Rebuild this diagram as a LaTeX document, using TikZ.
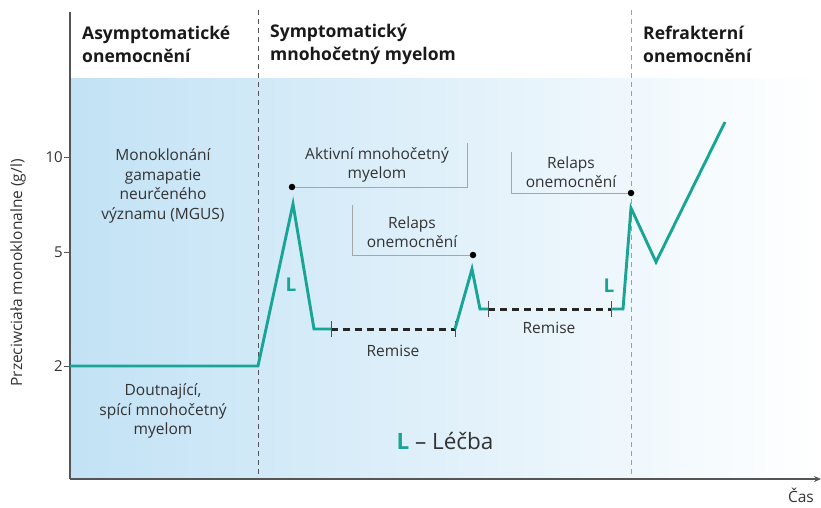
\documentclass[tikz,border=0pt]{standalone}
\usepackage{fontspec}
\setmainfont{Open Sans}
\usetikzlibrary{arrows.meta}
\definecolor{bgL}{HTML}{C2E2F5}
\definecolor{bgM}{HTML}{E0F1FB}
\definecolor{teal1}{HTML}{19A595}
\definecolor{txt}{HTML}{333333}
\definecolor{axisc}{HTML}{555555}
\tikzset{
  curve/.style={teal1, line width=2.9pt, line join=miter},
  remis/.style={black!85, line width=3pt, dash pattern=on 7pt off 5pt},
  tickm/.style={axisc, line width=0.8pt},
  call/.style={gray!70, line width=0.9pt},
  dot/.style={circle, fill=black, inner sep=0pt, minimum size=6.5pt},
  head/.style={font=\fontsize{17.5}{23}\selectfont\bfseries, text=black!90, align=left, anchor=west, inner sep=0pt},
  lab/.style={font=\fontsize{15.5}{19.5}\selectfont, text=txt, align=center, inner sep=0pt},
  ltr/.style={font=\fontsize{19}{20}\selectfont\bfseries, text=teal1, inner sep=0pt},
  ticklab/.style={font=\fontsize{15}{16}\selectfont, text=txt, anchor=east, inner sep=0pt},
  vdash/.style={line width=1pt, dash pattern=on 5pt off 4pt}
}
\begin{document}
\begin{tikzpicture}[x=1pt,y=-1pt]
\useasboundingbox (0,0) rectangle (821,508);
% background
\shade[left color=bgL, middle color=bgM, right color=white] (70,79) rectangle (821,479);
% phase separators
\draw[vdash, axisc] (258,10) -- (258,479);
\draw[vdash, gray!75] (631,10) -- (631,479);
% axes
\coordinate (ytop) at (70,12);
\coordinate (orig) at (70,479);
\coordinate (xend) at (821,479);
\draw[axisc, line width=1.4pt] (ytop) -- (orig);
\draw[axisc, line width=1.4pt, -{Stealth[length=7pt,width=6pt]}] (orig) -- (xend);
\node[lab, anchor=north east] (cas) at (814,488) {Čas};
% y ticks
\coordinate (t10) at (70,157);
\coordinate (t5) at (70,252);
\coordinate (t2) at (70,366);
\draw[tickm] (t10) -- ++(-6,0);
\draw[tickm] (t5) -- ++(-6,0);
\draw[tickm] (t2) -- ++(-6,0);
\node[ticklab] (l10) at (63,157) {10};
\node[ticklab] (l5) at (63,252) {5};
\node[ticklab] (l2) at (63,366) {2};
\node[lab, rotate=90] (ylab) at (18,273) {Przeciwciała monoklonalne (g/l)};
% headers
\node[head] (h1) at (82,44) {Asymptomatické\\onemocnění};
\node[head] (h2) at (270,44) {Symptomatický\\mnohočetný myelom};
\node[head] (h3) at (643,44) {Refrakterní\\onemocnění};
% left labels
\node[lab] (mgus) at (163,186) {Monoklonání\\gamapatie\\neurčeného\\významu (MGUS)};
\node[lab] (smold) at (163,411) {Doutnající,\\spící mnohočetný\\myelom};
% curve points
\coordinate (p0) at (70,366);
\coordinate (p1) at (258,366);
\coordinate (p2) at (293,204);
\coordinate (p3) at (314,329);
\coordinate (p4) at (331,329);
\coordinate (p5) at (455,329);
\coordinate (p6) at (472,269);
\coordinate (p7) at (480,309);
\coordinate (p8) at (488,309);
\coordinate (p9) at (611,309);
\coordinate (p10) at (623,309);
\coordinate (p11) at (631,208);
\coordinate (p12) at (656,262);
\coordinate (p13) at (725,122);
% remission
\draw[remis] (p4) -- (p5);
\draw[remis] (p8) -- (p9);
\foreach \p in {p4,p5,p8,p9} \draw[tickm, gray!60!black] ([yshift=-8pt]\p) -- ([yshift=8pt]\p);
\draw[curve] (p0) -- (p1) -- (p2) -- (p3) -- (p4);
\draw[curve] (p5) -- (p6) -- (p7) -- (p8);
\draw[curve] (p9) -- (p10) -- (p11) -- (p12) -- (p13);
\node[lab] (rem1) at (393,351) {Remise};
\node[lab] (rem2) at (549,328) {Remise};
\node[ltr] (L1) at (291,285) {L};
\node[ltr] (L2) at (609,286) {L};
% callouts
\node[dot] (d1) at (292,187) {};
\node[dot] (d2) at (473,255) {};
\node[dot] (d3) at (631,193) {};
\coordinate (c1a) at (467,187);
\coordinate (c1b) at (467,143);
\coordinate (c2a) at (352,255);
\coordinate (c2b) at (352,205);
\coordinate (c3a) at (511,193);
\coordinate (c3b) at (511,152);
\draw[call] (d1) -- (c1a) -- (c1b);
\draw[call] (d2) -- (c2a) -- (c2b);
\draw[call] (d3) -- (c3a) -- (c3b);
\node[lab] (akt) at (377,165) {Aktivní mnohočetný\\myelom};
\node[lab] (rel1) at (412,232) {Relaps\\onemocnění};
\node[lab] (rel2) at (571,172) {Relaps\\onemocnění};
% legend
\node[inner sep=0pt, font=\fontsize{22.5}{24}\selectfont] (leg) at (445,441) {\textcolor{teal1}{\bfseries L} \textcolor{txt}{– Léčba}};
\end{tikzpicture}
\end{document}
